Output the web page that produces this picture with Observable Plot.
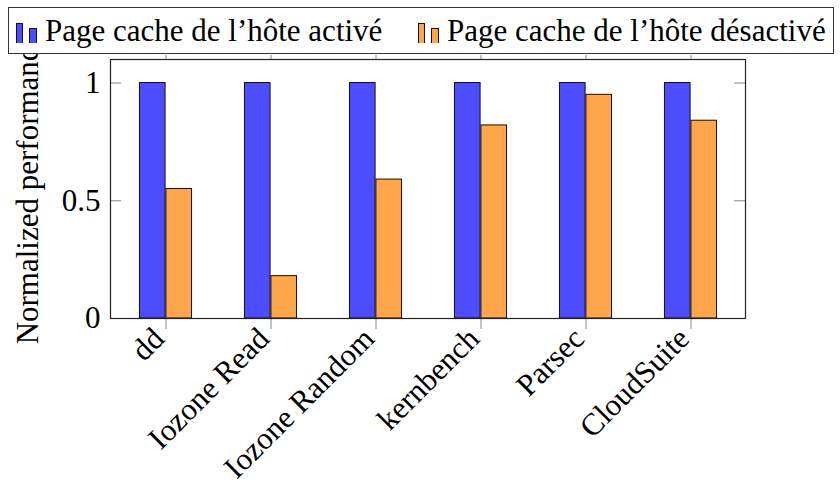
<!DOCTYPE html>
<html>
<head>
<meta charset="utf-8">
<script src="https://cdn.jsdelivr.net/npm/d3@7"></script>
<script src="https://cdn.jsdelivr.net/npm/@observablehq/plot@0.6"></script>
<style>
  html, body { margin: 0; padding: 0; background: #fff; }
  #wrap { position: relative; width: 840px; height: 483px; overflow: hidden; }
  #legend {
    position: absolute; left: 8px; top: 7px; width: 824px; height: 45px;
    border: 1px solid #333; background: #fff; box-sizing: content-box;
    font-family: "Liberation Serif", "DejaVu Serif", "Times New Roman", serif; font-size: 31px; color: #000;
  }
  .item { position: absolute; top: 0; height: 45px; display: flex; align-items: center; white-space: nowrap; }
  .item svg { margin-right: 6px; }
</style>
</head>
<body>
<div id="wrap">
  <div id="chart"></div>
  <div id="legend"></div>
</div>
<script>
const categories = ["dd", "Iozone Read", "Iozone Random", "kernbench", "Parsec", "CloudSuite"];
const enabledValues = [1, 1, 1, 1, 1, 1];
const disabledValues = [0.55, 0.18, 0.59, 0.82, 0.95, 0.84];
const seriesNames = ["Page cache de l’hôte activé", "Page cache de l’hôte désactivé"];
const seriesColors = ["#4d4dff", "#ffa64d"];
const yTicks = [0, 0.5, 1];
const yTickLabels = ["0", "0.5", "1"];
const yLabel = "Normalized performance";

const W = 840, H = 483;
const mL = 110, mR = 95, mT = 59, mB = 165;
const plotW = W - mL - mR;
const band = plotW / categories.length;
const barW = band / 4;

const data = [
  ...categories.map((c, i) => ({cat: c, series: seriesNames[0], value: enabledValues[i]})),
  ...categories.map((c, i) => ({cat: c, series: seriesNames[1], value: disabledValues[i]}))
];

const font = "'Liberation Serif', 'DejaVu Serif', 'Times New Roman', serif";

const chart = Plot.plot({
  width: W, height: H,
  marginLeft: mL, marginRight: mR, marginTop: mT, marginBottom: mB,
  style: {fontFamily: font, fontSize: "31px", color: "#000", background: "#fff"},
  x: {domain: categories, padding: 0, label: null},
  y: {domain: [0, 1.1], label: null},
  color: {domain: seriesNames, range: seriesColors},
  marks: [
    Plot.text([yLabel], {frameAnchor: "left", textAnchor: "middle", dx: -82, rotate: -90, fontSize: 31, fontFamily: font, fill: "#000"}),
    Plot.barY(data.filter(d => d.series === seriesNames[0]), {
      x: "cat", y: "value", fill: "series", stroke: "#111", strokeWidth: 1,
      insetLeft: barW, insetRight: 2 * barW
    }),
    Plot.barY(data.filter(d => d.series === seriesNames[1]), {
      x: "cat", y: "value", fill: "series", stroke: "#111", strokeWidth: 1,
      insetLeft: 2 * barW, insetRight: barW
    }),
    Plot.ruleY(yTicks, {stroke: "#888", insetRight: plotW - 11}),
    Plot.ruleY(yTicks, {stroke: "#888", insetLeft: plotW - 11}),
    Plot.axisY(yTicks, {anchor: "left", tickSize: 0, tickPadding: 10, tickFormat: (d, i) => yTickLabels[i], fontSize: 31, fontFamily: font, label: null}),
    Plot.axisX({anchor: "bottom", tickSize: 11, stroke: "#888", tickFormat: null, label: null}),
    Plot.axisX({anchor: "bottom", tickSize: 0, tickPadding: 15, dx: -7, tickRotate: -45, fill: "#000", fontSize: 31, fontFamily: font, label: null}),
    Plot.axisX({anchor: "top", tickSize: 5, tickFormat: null, stroke: "#888", label: null}),
    Plot.frame({stroke: "#222", strokeWidth: 1.2})
  ]
});
document.getElementById("chart").appendChild(chart);

// Legend (pgfplots ybar style icons)
const legend = document.getElementById("legend");
const itemLeft = [6, 408];
seriesNames.forEach((name, i) => {
  const item = document.createElement("div");
  item.className = "item";
  item.style.left = itemLeft[i] + "px";
  const ns = "http://www.w3.org/2000/svg";
  const svg = document.createElementNS(ns, "svg");
  svg.setAttribute("width", 24); svg.setAttribute("height", 24);
  [[1, 4, 6, 20], [14, 9, 7, 15]].forEach(([x, y, w, h]) => {
    const r = document.createElementNS(ns, "rect");
    r.setAttribute("x", x + 0.5); r.setAttribute("y", y + 0.5);
    r.setAttribute("width", w); r.setAttribute("height", h);
    r.setAttribute("fill", seriesColors[i]); r.setAttribute("stroke", "#111");
    svg.appendChild(r);
  });
  item.appendChild(svg);
  const span = document.createElement("span");
  span.textContent = name;
  item.appendChild(span);
  legend.appendChild(item);
});
</script>
</body>
</html>
